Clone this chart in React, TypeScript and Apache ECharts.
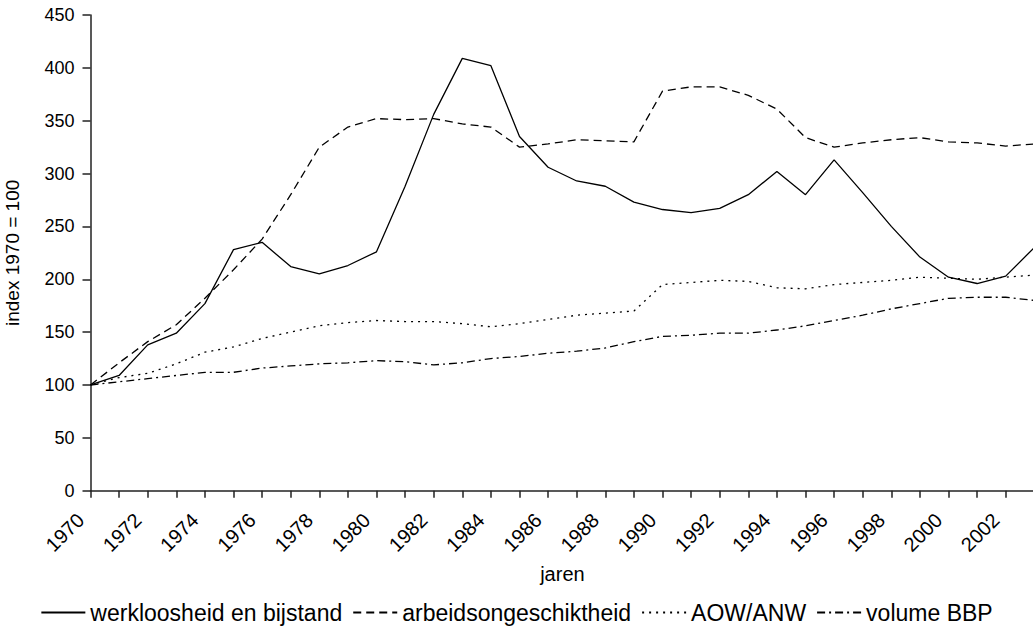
import React, { useEffect, useRef } from "react";
import * as echarts from "echarts";

const years = [
  "1970","1971","1972","1973","1974","1975","1976","1977","1978","1979",
  "1980","1981","1982","1983","1984","1985","1986","1987","1988","1989",
  "1990","1991","1992","1993","1994","1995","1996","1997","1998","1999",
  "2000","2001","2002","2003",
];

const werkloosheid = [
  100, 109, 138, 149, 177, 228, 235, 212, 205, 213,
  226, 288, 356, 409, 402, 335, 306, 293, 288, 273,
  266, 263, 267, 280, 302, 280, 313, 282, 250, 221,
  202, 196, 203, 230,
];

const arbeidsongeschiktheid = [
  100, 121, 141, 157, 182, 209, 238, 280, 325, 344,
  352, 351, 352, 347, 344, 325, 328, 332, 331, 330,
  378, 382, 382, 374, 361, 334, 325, 329, 332, 334,
  330, 329, 326, 328,
];

const aowAnw = [
  100, 107, 111, 120, 131, 136, 144, 150, 156, 159,
  161, 160, 160, 158, 155, 158, 162, 166, 168, 170,
  195, 197, 199, 198, 192, 191, 195, 197, 199, 202,
  201, 200, 202, 204,
];

const volumeBBP = [
  100, 103, 106, 109, 112, 112, 116, 118, 120, 121,
  123, 122, 119, 121, 125, 127, 130, 132, 135, 141,
  146, 147, 149, 149, 152, 156, 161, 166, 172, 177,
  182, 183, 183, 180,
];

const seriesNames = [
  "werkloosheid en bijstand",
  "arbeidsongeschiktheid",
  "AOW/ANW",
  "volume BBP",
];

const FONT = "'Liberation Sans', Arial, Helvetica, sans-serif";

export default function App() {
  const ref = useRef<HTMLDivElement>(null);

  useEffect(() => {
    if (!ref.current) return;
    const chart = echarts.init(ref.current, undefined, { renderer: "svg" });
    const mk = (name: string, data: number[], type: any) => ({
      name,
      type: "line",
      data,
      symbol: "none",
      showSymbol: false,
      lineStyle: { color: "#000", width: 1.3, type },
      itemStyle: { color: "#000" },
    });
    chart.setOption({
      animation: false,
      backgroundColor: "#fff",
      textStyle: { fontFamily: FONT },
      grid: {
        left: 90.5,
        right: -1.3,
        top: 15,
        bottom: 142.3,
        containLabel: false,
        outerBoundsMode: "none",
      },
      legend: {
        data: seriesNames,
        left: "center",
        top: 596,
        itemWidth: 44,
        itemHeight: 14,
        itemGap: 10,
        itemStyle: { color: "transparent", borderColor: "transparent", borderWidth: 0, opacity: 0 },
        textStyle: { fontSize: 23, color: "#000", fontFamily: FONT },
      },
      xAxis: {
        type: "category",
        data: years,
        boundaryGap: false,
        name: "jaren",
        nameLocation: "middle",
        nameGap: 73,
        nameTextStyle: { fontSize: 20, color: "#000", fontFamily: FONT },
        axisLine: { lineStyle: { color: "#222", width: 1.5 } },
        axisTick: { interval: 0, length: 7, lineStyle: { color: "#222", width: 1.5 } },
        axisLabel: {
          interval: 1,
          rotate: 45,
          fontSize: 20,
          color: "#000",
          margin: 16,
          padding: [0, 14, 0, 0],
          fontFamily: FONT,
        },
        splitLine: { show: false },
      },
      yAxis: {
        type: "value",
        min: 0,
        max: 450,
        interval: 50,
        name: "index 1970 = 100",
        nameLocation: "middle",
        nameGap: 69,
        nameTextStyle: { fontSize: 19, color: "#000", fontFamily: FONT },
        axisLine: { show: true, lineStyle: { color: "#222", width: 1.5 } },
        axisTick: { show: true, length: 8, lineStyle: { color: "#222", width: 1.5 } },
        axisLabel: { fontSize: 18, color: "#000", margin: 16, fontFamily: FONT },
        splitLine: { show: false },
      },
      series: [
        mk(seriesNames[0], werkloosheid, "solid"),
        mk(seriesNames[1], arbeidsongeschiktheid, [8, 5]),
        mk(seriesNames[2], aowAnw, [2, 5]),
        mk(seriesNames[3], volumeBBP, [8, 4, 2, 4]),
      ],
    });
    return () => chart.dispose();
  }, []);

  return (
    <div
      ref={ref}
      style={{ position: "fixed", left: 0, top: 0, width: 1033, height: 633, background: "#fff" }}
    />
  );
}
